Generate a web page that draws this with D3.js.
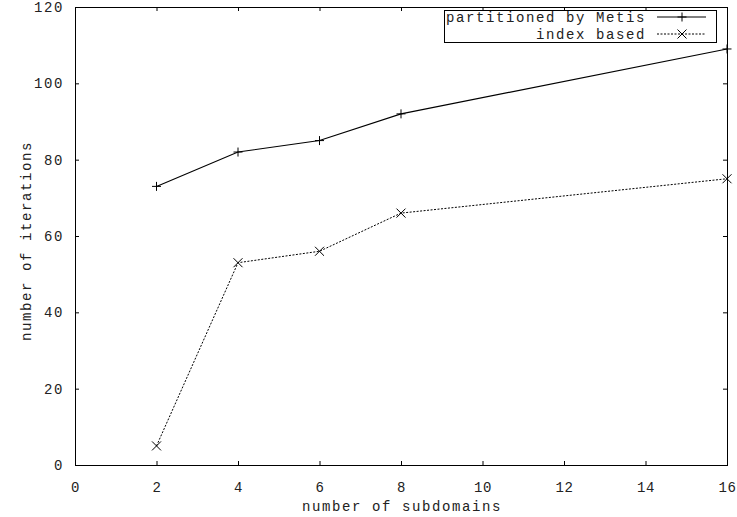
<!DOCTYPE html>
<html>
<head>
<meta charset="utf-8">
<script src="https://cdn.jsdelivr.net/npm/d3@7"></script>
<style>
  html, body { margin: 0; padding: 0; background: #fff; }
  svg { display: block; }
  text { font-family: "Liberation Mono", "Courier New", monospace; fill: #222; letter-spacing: 1.6px; }
  .xtick text { letter-spacing: 0.6px; }
</style>
</head>
<body>
<script>
// Iteration counts versus number of subdomains
const subdomains = [2, 4, 6, 8, 16];
const metisIterations = [73, 82, 85, 92, 109];
const indexIterations = [5, 53, 56, 66, 75];
const seriesNames = ["partitioned by Metis", "index based"];
const xTicks = [0, 2, 4, 6, 8, 10, 12, 14, 16];
const yTicks = [0, 20, 40, 60, 80, 100, 120];

const W = 737, H = 517;
const plot = { left: 75, right: 727, top: 7, bottom: 465 };
const fontSize = 14;

const svg = d3.select("body").append("svg").attr("width", W).attr("height", H);

const x = d3.scaleLinear().domain([0, 16]).range([plot.left, plot.right]);
const y = d3.scaleLinear().domain([0, 120]).range([plot.bottom, plot.top]);

// Inward ticks on all four sides
const tickLen = 4;
const axisBottom = d3.axisBottom(x).tickValues(xTicks).tickSize(-tickLen).tickPadding(12);
const axisTop = d3.axisTop(x).tickValues(xTicks).tickSize(-tickLen).tickFormat("");
const axisLeft = d3.axisLeft(y).tickValues(yTicks).tickSize(-tickLen).tickPadding(11);
const axisRight = d3.axisRight(y).tickValues(yTicks).tickSize(-tickLen).tickFormat("");

function styleAxis(g) {
  g.select(".domain").remove();
  g.selectAll("line").attr("stroke", "#000").attr("stroke-width", 1);
  g.selectAll("text").attr("font-size", fontSize)
    .style("font-family", '"Liberation Mono", "Courier New", monospace');
}

svg.append("g").attr("class", "xtick").attr("transform", `translate(0,${plot.bottom})`)
  .call(axisBottom).call(styleAxis)
  .selectAll("text").attr("dy", "1.05em");
svg.append("g").attr("transform", `translate(0,${plot.top})`).call(axisTop).call(styleAxis);
svg.append("g").attr("transform", `translate(${plot.left},0)`).call(axisLeft).call(styleAxis);
svg.append("g").attr("transform", `translate(${plot.right},0)`).call(axisRight).call(styleAxis);

// Frame
svg.append("rect")
  .attr("x", plot.left + 0.5).attr("y", plot.top + 0.5)
  .attr("width", plot.right - plot.left).attr("height", plot.bottom - plot.top)
  .attr("fill", "none").attr("stroke", "#000").attr("stroke-width", 1);

// Axis titles
svg.append("text")
  .attr("x", (plot.left + plot.right) / 2 + 1).attr("y", 511)
  .attr("text-anchor", "middle").attr("font-size", fontSize)
  .text("number of subdomains");
svg.append("text")
  .attr("transform", `translate(31,${(plot.top + plot.bottom) / 2 + 5}) rotate(-90)`)
  .attr("text-anchor", "middle").attr("font-size", fontSize)
  .text("number of iterations");

const line = d3.line().x(d => x(d[0])).y(d => y(d[1]));
const metisData = subdomains.map((s, i) => [s, metisIterations[i]]);
const indexData = subdomains.map((s, i) => [s, indexIterations[i]]);

const mk = 4.5;
function plus(g, cx, cy) {
  g.append("path").attr("d", `M${cx - mk},${cy}H${cx + mk}M${cx},${cy - mk}V${cy + mk}`)
    .attr("stroke", "#000").attr("stroke-width", 1).attr("fill", "none");
}
function cross(g, cx, cy) {
  g.append("path").attr("d", `M${cx - mk},${cy - mk}L${cx + mk},${cy + mk}M${cx - mk},${cy + mk}L${cx + mk},${cy - mk}`)
    .attr("stroke", "#000").attr("stroke-width", 1).attr("fill", "none");
}

const gData = svg.append("g");
gData.append("path").datum(metisData).attr("d", line)
  .attr("fill", "none").attr("stroke", "#000").attr("stroke-width", 1.1);
gData.append("path").datum(indexData).attr("d", line)
  .attr("fill", "none").attr("stroke", "#000").attr("stroke-width", 1)
  .attr("stroke-dasharray", "2,1.5");
metisData.forEach(d => plus(gData, x(d[0]), y(d[1])));
indexData.forEach(d => cross(gData, x(d[0]), y(d[1])));

// Legend
const lg = svg.append("g");
lg.append("rect").attr("x", 444.5).attr("y", 10.5).attr("width", 272).attr("height", 32)
  .attr("fill", "#fff").attr("stroke", "#000").attr("stroke-width", 1);
const rows = [17, 34];
seriesNames.forEach((name, i) => {
  lg.append("text").attr("x", 646).attr("y", rows[i] + 5)
    .attr("text-anchor", "end").attr("font-size", fontSize).text(name);
  lg.append("line").attr("x1", 657).attr("x2", 706).attr("y1", rows[i]).attr("y2", rows[i])
    .attr("stroke", "#000").attr("stroke-width", 1)
    .attr("stroke-dasharray", i === 0 ? null : "2,1.5");
  if (i === 0) plus(lg, 682, rows[i]); else cross(lg, 682, rows[i]);
});
</script>
</body>
</html>
